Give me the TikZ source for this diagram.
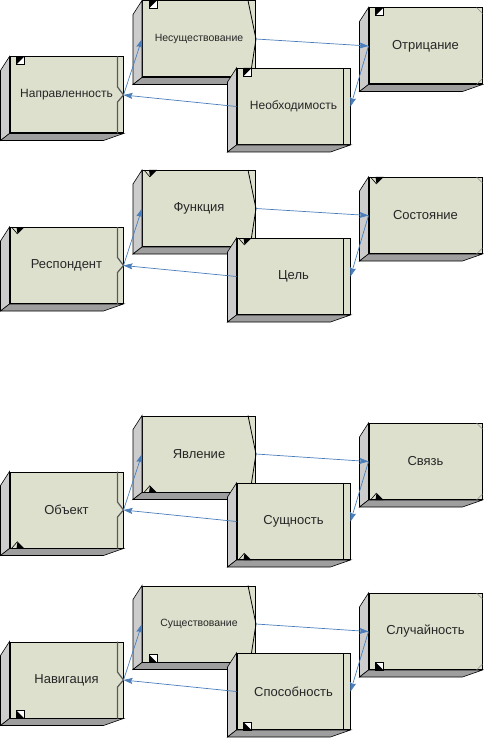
\documentclass[tikz,border=0pt]{standalone}
\usepackage{fontspec}
\setmainfont{Liberation Sans}
\usetikzlibrary{arrows.meta,calc}
\definecolor{faceclr}{RGB}{222,224,206}
\definecolor{sideclr}{RGB}{204,204,204}
\definecolor{baseclr}{RGB}{158,158,158}
\definecolor{linkclr}{RGB}{74,126,187}
\tikzset{
  face/.style={draw=black,line width=1pt,fill=faceclr,minimum width=113pt,
    minimum height=76pt,inner sep=0pt,text=black!85,font=\fontsize{13}{15}\selectfont},
  link/.style={linkclr,line width=0.7pt,-{Stealth[length=9pt,width=6pt,inset=1.5pt]}},
}
% left and bottom faces of a box
\newcommand{\boxsides}[1]{%
  \filldraw[fill=sideclr,line width=0.6pt] (#1.north west) -- ++(-9,14)
    -- ($(#1.south west)+(-9,7)$) -- (#1.south west) -- cycle;
  \filldraw[fill=baseclr,line width=0.6pt] (#1.south west) -- ++(-9,7)
    -- ($(#1.south east)+(-20,7)$) -- (#1.south east) -- cycle;}
% right edge details
\newcommand{\notchline}[1]{\draw[black!65,line width=1.2pt] ($(#1.north east)+(-6,0)$)
  -- ($(#1.east)+(-6,-8)$) -- (#1.east) -- ($(#1.east)+(-6,7)$) -- ($(#1.south east)+(-6,0)$);}
\newcommand{\chevronline}[1]{\draw[line width=0.8pt] ($(#1.north east)+(-8,0)$)
  -- (#1.east) -- ($(#1.south east)+(-6,0)$);}
\newcommand{\innerline}[1]{\draw[line width=0.8pt] ($(#1.north east)+(-7,0)$)
  -- ($(#1.south east)+(-7,0)$);}
\newcommand{\cornerticks}[1]{\draw[black!45,line width=0.6pt] ($(#1.north east)+(-6,0)$)
  -- ++(6,6) ($(#1.south east)+(0,-6)$) -- ++(-6,6);}
% corner markers
\newcommand{\marksqtop}[1]{%
  \filldraw[fill=white,line width=0.6pt] ($(#1.north west)+(7,0)$) rectangle ++(8,8);
  \fill ($(#1.north west)+(7,0)$) -- ++(8,0) -- ++(-8,8) -- cycle;}
\newcommand{\marktritop}[1]{%
  \draw[line width=0.6pt] ($(#1.north west)+(2,0)$) -- ++(6,7);
  \fill ($(#1.north west)+(7,0)$) -- ++(8,0) -- ++(-7,7) -- cycle;}
\newcommand{\marktribot}[1]{%
  \draw[line width=0.6pt] ($(#1.south west)+(2,0)$) -- ++(6,-7);
  \fill ($(#1.south west)+(7,0)$) -- ++(8,0) -- ++(-7,-7) -- cycle;}
\newcommand{\marksqbot}[1]{%
  \filldraw[fill=white,line width=0.6pt] ($(#1.south west)+(7,-8)$) rectangle ++(8,8);
  \fill ($(#1.south west)+(7,-8)$) -- ++(0,8) -- ++(8,0) -- cycle;}

\begin{document}
\begin{tikzpicture}[x=1pt,y=-1pt]
  \useasboundingbox (0,0) rectangle (483,738);
  % ---- group 1
  \begin{scope}[shift={(0,39)}]
    \node[face,font=\fontsize{12}{14}\selectfont] (napr) at (66.5,56) {Направленность};
    \boxsides{napr} \notchline{napr} \marksqtop{napr}
    \node[face,font=\fontsize{10.5}{12}\selectfont] (nesu) at (199,0) {Несуществование};
    \boxsides{nesu} \chevronline{nesu} \marksqtop{nesu}
    \node[face,font=\fontsize{12}{14}\selectfont] (neob) at (293.5,67.5) {Необходимость};
    \boxsides{neob} \innerline{neob} \marksqtop{neob}
    \node[face] (otri) at (425.5,7) {Отрицание};
    \boxsides{otri} \cornerticks{otri} \marksqtop{otri}
    \draw[link] (napr.east) -- (nesu.west);
    \draw[link] (nesu.east) -- (otri.west);
    \draw[link] (otri.west) -- (neob.east);
    \draw[link] (neob.west) -- (napr.east);
  \end{scope}
  % ---- group 2
  \begin{scope}[shift={(0,208.5)}]
    \node[face] (resp) at (66.5,57) {Респондент};
    \boxsides{resp} \notchline{resp} \marktritop{resp}
    \node[face] (funk) at (199,0) {Функция};
    \boxsides{funk} \chevronline{funk} \marktritop{funk}
    \node[face] (cel) at (293.5,68) {Цель};
    \boxsides{cel} \innerline{cel} \marktritop{cel}
    \node[face] (sost) at (425.5,7) {Состояние};
    \boxsides{sost} \cornerticks{sost} \marktritop{sost}
    \draw[link] (resp.east) -- (funk.west);
    \draw[link] (funk.east) -- (sost.west);
    \draw[link] (sost.west) -- (cel.east);
    \draw[link] (cel.west) -- (resp.east);
  \end{scope}
  % ---- group 3
  \begin{scope}[shift={(0,454)}]
    \node[face] (obj) at (66.5,56) {Объект};
    \boxsides{obj} \notchline{obj} \marktribot{obj}
    \node[face] (javl) at (199,0) {Явление};
    \boxsides{javl} \chevronline{javl} \marktribot{javl}
    \node[face] (sushn) at (293.5,67.5) {Сущность};
    \boxsides{sushn} \innerline{sushn} \marktribot{sushn}
    \node[face] (svjaz) at (425.5,7.5) {Связь};
    \boxsides{svjaz} \cornerticks{svjaz} \marktribot{svjaz}
    \draw[link] (obj.east) -- (javl.west);
    \draw[link] (javl.east) -- (svjaz.west);
    \draw[link] (svjaz.west) -- (sushn.east);
    \draw[link] (sushn.west) -- (obj.east);
  \end{scope}
  % ---- group 4
  \begin{scope}[shift={(0,624)}]
    \node[face] (navig) at (66.5,56) {Навигация};
    \boxsides{navig} \notchline{navig} \marksqbot{navig}
    \node[face,font=\fontsize{10.5}{12}\selectfont] (susch) at (199,0) {Существование};
    \boxsides{susch} \chevronline{susch} \marksqbot{susch}
    \node[face] (sposob) at (293.5,67.5) {Способность};
    \boxsides{sposob} \innerline{sposob} \marksqbot{sposob}
    \node[face] (sluch) at (425.5,7.5) {Случайность};
    \boxsides{sluch} \cornerticks{sluch} \marksqbot{sluch}
    \draw[link] (navig.east) -- (susch.west);
    \draw[link] (susch.east) -- (sluch.west);
    \draw[link] (sluch.west) -- (sposob.east);
    \draw[link] (sposob.west) -- (navig.east);
  \end{scope}
\end{tikzpicture}
\end{document}
